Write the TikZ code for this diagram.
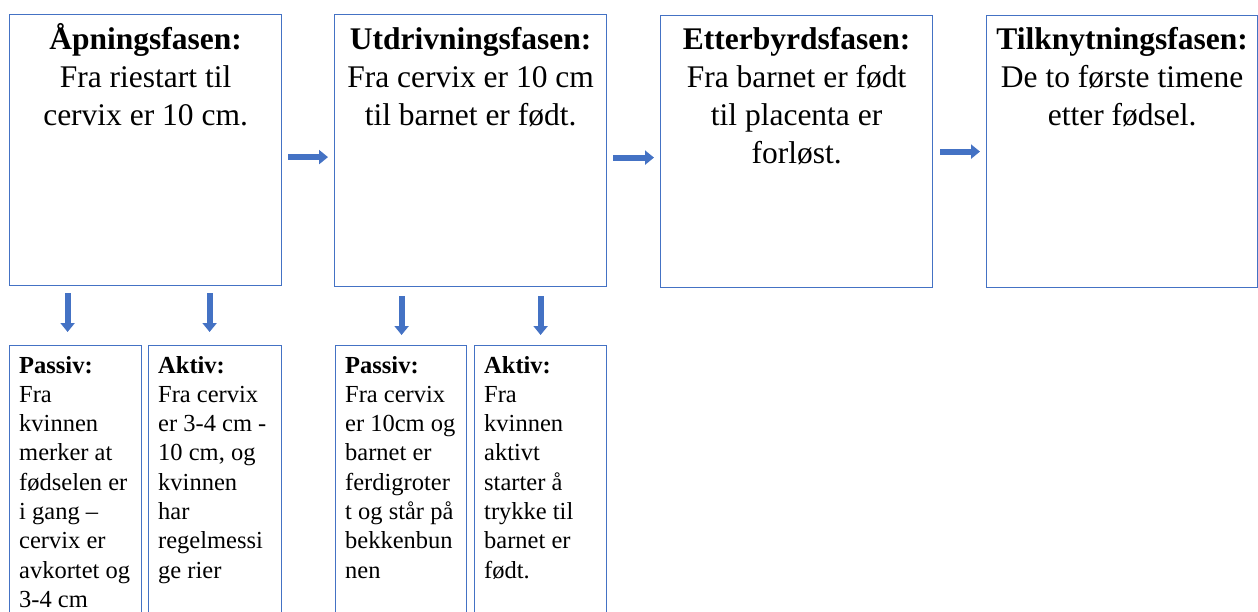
\documentclass[tikz,border=0pt]{standalone}
\usepackage{fontspec}
\setmainfont{Liberation Serif}
\usetikzlibrary{arrows.meta}
\definecolor{boxblue}{HTML}{4472C4}
\definecolor{arrblue}{HTML}{4472C4}
\protected\def\fixsp{\spaceskip=0.25em\relax}
\begin{document}
\begin{tikzpicture}[x=1pt,y=-1pt,
  phase/.style={draw=boxblue, line width=1.2pt, fill=white, rectangle, anchor=north west, inner sep=0pt},
  toptxt/.style={anchor=base, text width=270pt, align=center, inner sep=0pt, font=\fontsize{31.5}{37.7}\selectfont},
  subtxt/.style={anchor=base west, text width=125pt, align=left, inner sep=0pt, font=\fontsize{24.5}{29.3}\selectfont},
  barrow/.style={draw=arrblue, line width=6pt, -{Triangle[length=9pt,width=14pt]}}
]
\path[use as bounding box] (0,0) rectangle (1258,612);
\clip (0,0) rectangle (1258,612);
% top boxes
\node[phase, minimum width=272pt, minimum height=271pt] (b1) at (9,14) {};
\node[phase, minimum width=272pt, minimum height=272pt] (b2) at (334,14) {};
\node[phase, minimum width=272pt, minimum height=272pt] (b3) at (660,15) {};
\node[phase, minimum width=271pt, minimum height=272pt] (b4) at (986,15) {};
\node[toptxt] (t1) at ([yshift=-36pt]b1.north) {\fixsp\textbf{Åpningsfasen:}\\Fra riestart til\\cervix er 10 cm.};
\node[toptxt] (t2) at ([yshift=-36pt]b2.north) {\fixsp\textbf{Utdrivningsfasen:}\\Fra cervix er 10 cm\\til barnet er født.};
\node[toptxt] (t3) at ([yshift=-35pt]b3.north) {\fixsp\textbf{Etterbyrdsfasen:}\\Fra barnet er født\\til placenta er\\forløst.};
\node[toptxt] (t4) at ([yshift=-35pt]b4.north) {\fixsp\textbf{Tilknytningsfasen:}\\De to første timene\\etter fødsel.};
% bottom boxes
\node[phase, minimum width=132pt, minimum height=280pt] (pa) at (9,345) {};
\node[phase, minimum width=133pt, minimum height=280pt] (pb) at (148,345) {};
\node[phase, minimum width=131pt, minimum height=280pt] (pc) at (335,345) {};
\node[phase, minimum width=132pt, minimum height=280pt] (pd) at (474,345) {};
\node[subtxt] (sa) at ([xshift=10pt,yshift=-28pt]pa.north west) {\fixsp\textbf{Passiv:}\\Fra\\kvinnen\\merker at\\fødselen er\\i gang –\\cervix er\\avkortet og\\3-4 cm};
\node[subtxt] (sb) at ([xshift=10pt,yshift=-28pt]pb.north west) {\fixsp\textbf{Aktiv:}\\Fra cervix\\er 3-4 cm -\\10 cm, og\\kvinnen\\har\\regelmessi\\ge rier};
\node[subtxt] (sc) at ([xshift=10pt,yshift=-28pt]pc.north west) {\fixsp\textbf{Passiv:}\\Fra cervix\\er 10cm og\\barnet er\\ferdigroter\\t og står på\\bekkenbun\\nen};
\node[subtxt] (sd) at ([xshift=10pt,yshift=-28pt]pd.north west) {\fixsp\textbf{Aktiv:}\\Fra\\kvinnen\\aktivt\\starter å\\trykke til\\barnet er\\født.};
% horizontal arrows
\draw[barrow, shorten <=6pt, shorten >=6pt] ([yshift=-7pt]b1.east) -- ([yshift=-7pt]b2.west |- b1.east);
\draw[barrow, shorten <=6pt, shorten >=6pt] ([yshift=-7pt]b2.east) -- ([yshift=-7pt]b3.west |- b2.east);
\draw[barrow, shorten <=7pt, shorten >=6pt] (b3.east) -- (b4.west);
% down arrows
\coordinate (d1) at ([xshift=-8pt]pa.north);
\coordinate (d2) at ([xshift=-5.5pt]pb.north);
\coordinate (d3) at ([xshift=0.5pt]pc.north);
\coordinate (d4) at ([xshift=0pt]pd.north);
\draw[barrow, shorten <=7pt, shorten >=13pt] (d1 |- b1.south) -- (d1);
\draw[barrow, shorten <=7pt, shorten >=13pt] (d2 |- b1.south) -- (d2);
\draw[barrow, shorten <=9pt, shorten >=10pt] (d3 |- b2.south) -- (d3);
\draw[barrow, shorten <=9pt, shorten >=10pt] (d4 |- b2.south) -- (d4);
\end{tikzpicture}
\end{document}
